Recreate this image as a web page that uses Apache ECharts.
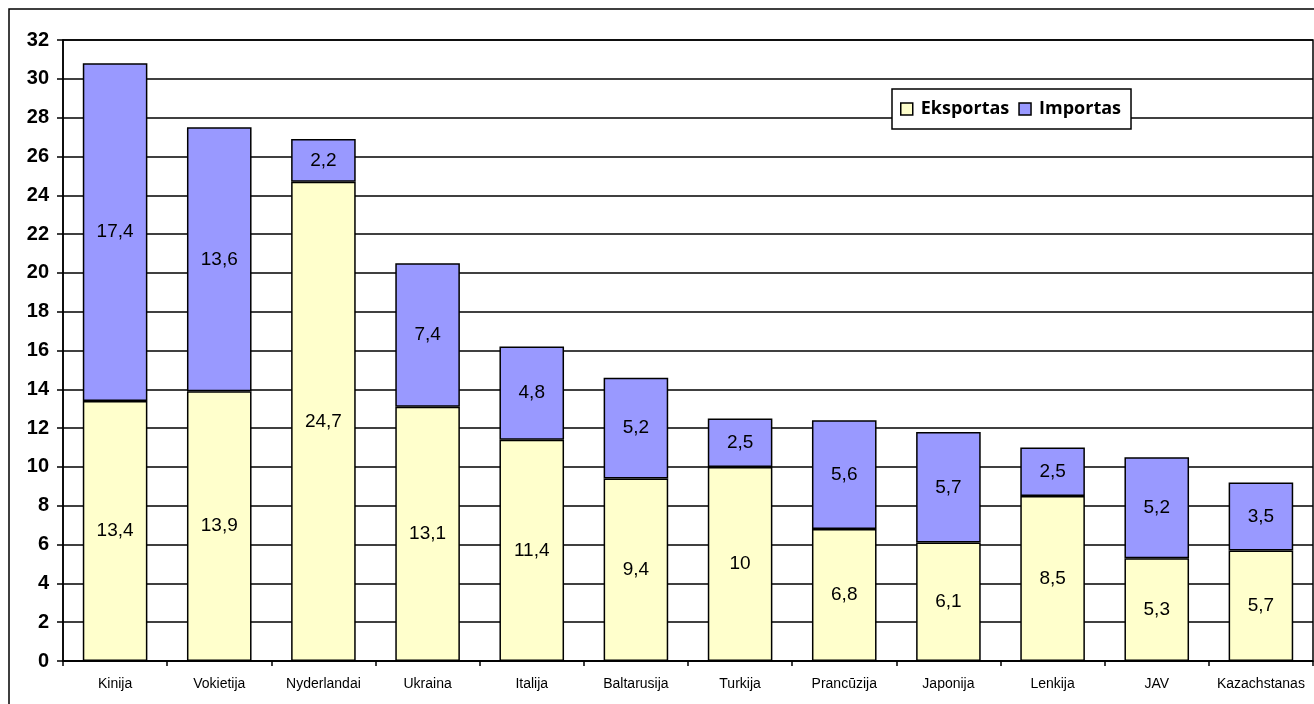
<!DOCTYPE html>
<html>
<head>
<meta charset="utf-8">
<script src="https://cdn.jsdelivr.net/npm/echarts@6/dist/echarts.min.js"></script>
<style>
html,body{margin:0;padding:0;background:#fff;}
#chart{width:1314px;height:704px;}
</style>
</head>
<body>
<div id="chart"></div>
<script>
const categories = ['Kinija','Vokietija','Nyderlandai','Ukraina','Italija','Baltarusija','Turkija','Prancūzija','Japonija','Lenkija','JAV','Kazachstanas'];
const eksportas = [13.4, 13.9, 24.7, 13.1, 11.4, 9.4, 10, 6.8, 6.1, 8.5, 5.3, 5.7];
const importas = [17.4, 13.6, 2.2, 7.4, 4.8, 5.2, 2.5, 5.6, 5.7, 2.5, 5.2, 3.5];
const seriesNames = ['Eksportas', 'Importas'];

const chart = echarts.init(document.getElementById('chart'), null, {renderer: 'canvas'});
const fmt = p => String(p.value).replace('.', ',');
const labelStyle = {show: true, position: 'inside', formatter: fmt, color: '#000', fontFamily: '"Liberation Sans", Arial, sans-serif', fontSize: 19};
chart.setOption({
  animation: false,
  backgroundColor: '#fff',
  graphic: [{
    type: 'rect', z: -10,
    shape: {x: 9, y: 9, width: 1320, height: 700},
    style: {fill: 'none', stroke: '#000', lineWidth: 1.5}
  }],
  grid: {left: 63, right: 1, top: 40, bottom: 43, show: true, borderColor: '#000', borderWidth: 1.5, backgroundColor: 'transparent'},
  legend: {
    data: seriesNames,
    left: 892, top: 89,
    padding: [11, 10, 11, 8],
    itemWidth: 12, itemHeight: 12, itemGap: 9,
    icon: 'rect',
    borderColor: '#000', borderWidth: 1.5, backgroundColor: '#fff',
    textStyle: {fontFamily: '"Open Sans", Lato, sans-serif', fontWeight: 'bold', fontSize: 18, color: '#000', padding: [0, 0, 0, 3]},
    itemStyle: {borderColor: '#000', borderWidth: 1.5}
  },
  xAxis: {
    type: 'category', data: categories,
    axisLine: {lineStyle: {color: '#000', width: 1.5}},
    axisTick: {show: true, length: 5, lineStyle: {color: '#000', width: 1.5}},
    axisLabel: {color: '#000', fontFamily: '"Liberation Sans", Arial, sans-serif', fontSize: 14, margin: 16, interval: 0}
  },
  yAxis: {
    type: 'value', min: 0, max: 32, interval: 2,
    axisLine: {show: true, lineStyle: {color: '#000', width: 1.5}},
    axisTick: {show: true, length: 6, lineStyle: {color: '#000', width: 1.5}},
    axisLabel: {color: '#000', fontFamily: '"Liberation Sans", Arial, sans-serif', fontWeight: 'bold', fontSize: 20, margin: 14},
    splitLine: {show: true, lineStyle: {color: '#000', width: 1.5}}
  },
  series: [
    {name: seriesNames[0], type: 'bar', stack: 'a', data: eksportas, barWidth: '62%',
     itemStyle: {color: '#FFFFCC', borderColor: '#000', borderWidth: 1.5}, label: labelStyle},
    {name: seriesNames[1], type: 'bar', stack: 'a', data: importas, barWidth: '62%',
     itemStyle: {color: '#9999FF', borderColor: '#000', borderWidth: 1.5}, label: labelStyle}
  ]
});
</script>
</body>
</html>
